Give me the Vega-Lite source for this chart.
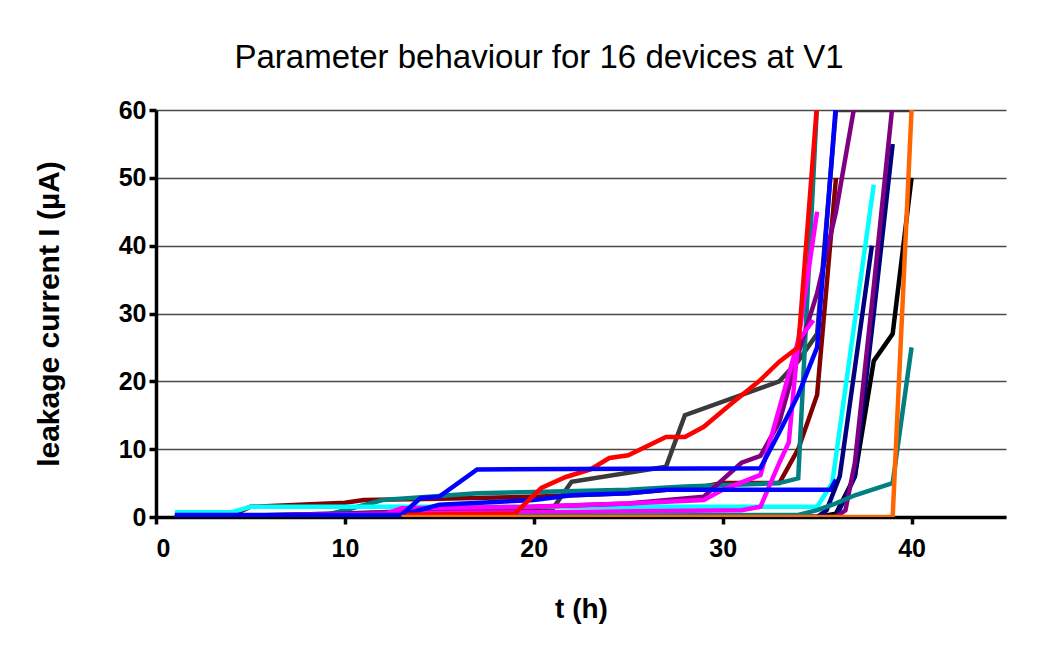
{
  "$schema": "https://vega.github.io/schema/vega-lite/v6.json",
  "width": 850,
  "height": 407,
  "autosize": "none",
  "padding": {"left": 156, "top": 110, "right": 48, "bottom": 147},
  "background": "white",
  "title": {
    "text": "Parameter behaviour for 16 devices at V1",
    "font": "Liberation Sans",
    "fontSize": 33,
    "fontWeight": "normal",
    "color": "black",
    "anchor": "middle",
    "dx": -42,
    "offset": 23
  },
  "config": {
    "view": {"stroke": null},
    "font": "Liberation Sans"
  },
  "data": {
    "values": [
      {"device": "d01", "t": 1, "I": 0}, {"device": "d01", "t": 35, "I": 0}, {"device": "d01", "t": 36, "I": 0.5}, {"device": "d01", "t": 37, "I": 6}, {"device": "d01", "t": 38, "I": 23}, {"device": "d01", "t": 39, "I": 27}, {"device": "d01", "t": 40, "I": 50},

      {"device": "d02", "t": 1, "I": 0}, {"device": "d02", "t": 10, "I": 0.5}, {"device": "d02", "t": 21, "I": 1.2}, {"device": "d02", "t": 22, "I": 5.2}, {"device": "d02", "t": 27, "I": 7.4}, {"device": "d02", "t": 28, "I": 15}, {"device": "d02", "t": 33, "I": 20}, {"device": "d02", "t": 34, "I": 23}, {"device": "d02", "t": 35, "I": 27}, {"device": "d02", "t": 36, "I": 60}, {"device": "d02", "t": 40, "I": 60},

      {"device": "d03", "t": 1, "I": 0}, {"device": "d03", "t": 4, "I": 0.2}, {"device": "d03", "t": 5, "I": 1.5}, {"device": "d03", "t": 10, "I": 2.1}, {"device": "d03", "t": 11, "I": 2.5}, {"device": "d03", "t": 15, "I": 2.7}, {"device": "d03", "t": 20, "I": 3}, {"device": "d03", "t": 25, "I": 3.5}, {"device": "d03", "t": 29, "I": 4.5}, {"device": "d03", "t": 30, "I": 5}, {"device": "d03", "t": 33, "I": 5}, {"device": "d03", "t": 34, "I": 10}, {"device": "d03", "t": 35, "I": 18}, {"device": "d03", "t": 36, "I": 50},

      {"device": "d04", "t": 1, "I": 0}, {"device": "d04", "t": 9, "I": 0.3}, {"device": "d04", "t": 10, "I": 1}, {"device": "d04", "t": 12, "I": 2.5}, {"device": "d04", "t": 15, "I": 3.1}, {"device": "d04", "t": 17, "I": 3.5}, {"device": "d04", "t": 20, "I": 3.7}, {"device": "d04", "t": 25, "I": 4}, {"device": "d04", "t": 28, "I": 4.5}, {"device": "d04", "t": 33, "I": 5}, {"device": "d04", "t": 34, "I": 5.7}, {"device": "d04", "t": 35, "I": 61},

      {"device": "d05", "t": 1, "I": 0.7}, {"device": "d05", "t": 4, "I": 0.7}, {"device": "d05", "t": 5, "I": 1.5}, {"device": "d05", "t": 35, "I": 1.5}, {"device": "d05", "t": 35.8, "I": 5}, {"device": "d05", "t": 37, "I": 29}, {"device": "d05", "t": 38, "I": 49},

      {"device": "d06", "t": 1, "I": 0}, {"device": "d06", "t": 10, "I": 0.5}, {"device": "d06", "t": 20, "I": 1.5}, {"device": "d06", "t": 25, "I": 2}, {"device": "d06", "t": 29, "I": 3}, {"device": "d06", "t": 30, "I": 5.5}, {"device": "d06", "t": 31, "I": 8}, {"device": "d06", "t": 32, "I": 9}, {"device": "d06", "t": 33, "I": 14}, {"device": "d06", "t": 34, "I": 24}, {"device": "d06", "t": 35, "I": 33}, {"device": "d06", "t": 36, "I": 45}, {"device": "d06", "t": 37, "I": 61},

      {"device": "d07", "t": 1, "I": 0}, {"device": "d07", "t": 13, "I": 0.5}, {"device": "d07", "t": 31, "I": 1}, {"device": "d07", "t": 32, "I": 1.5}, {"device": "d07", "t": 33, "I": 8}, {"device": "d07", "t": 33.5, "I": 11}, {"device": "d07", "t": 34, "I": 26}, {"device": "d07", "t": 34.8, "I": 29},

      {"device": "d08", "t": 1, "I": 0}, {"device": "d08", "t": 12, "I": 0.3}, {"device": "d08", "t": 13, "I": 1.3}, {"device": "d08", "t": 20, "I": 1.5}, {"device": "d08", "t": 25, "I": 2}, {"device": "d08", "t": 29, "I": 2.5}, {"device": "d08", "t": 30, "I": 4}, {"device": "d08", "t": 32, "I": 6.2}, {"device": "d08", "t": 33, "I": 16}, {"device": "d08", "t": 34, "I": 26}, {"device": "d08", "t": 35, "I": 45},

      {"device": "d09", "t": 1, "I": 0}, {"device": "d09", "t": 13, "I": 0.3}, {"device": "d09", "t": 15, "I": 1.8}, {"device": "d09", "t": 20, "I": 2.5}, {"device": "d09", "t": 22, "I": 3.2}, {"device": "d09", "t": 25, "I": 3.5}, {"device": "d09", "t": 27, "I": 4}, {"device": "d09", "t": 35.7, "I": 4}, {"device": "d09", "t": 36, "I": 5.5},

      {"device": "d10", "t": 1, "I": 0}, {"device": "d10", "t": 36, "I": 0}, {"device": "d10", "t": 37, "I": 6}, {"device": "d10", "t": 38, "I": 30}, {"device": "d10", "t": 39, "I": 55},

      {"device": "d11", "t": 1, "I": 0}, {"device": "d11", "t": 36, "I": 0}, {"device": "d11", "t": 36.5, "I": 1}, {"device": "d11", "t": 37, "I": 8}, {"device": "d11", "t": 38, "I": 34}, {"device": "d11", "t": 39, "I": 61},

      {"device": "d12", "t": 1, "I": 0}, {"device": "d12", "t": 35, "I": 0}, {"device": "d12", "t": 35.5, "I": 1}, {"device": "d12", "t": 36.2, "I": 6}, {"device": "d12", "t": 37, "I": 22}, {"device": "d12", "t": 37.9, "I": 40},

      {"device": "d13", "t": 1, "I": 0}, {"device": "d13", "t": 34, "I": 0.3}, {"device": "d13", "t": 35, "I": 1}, {"device": "d13", "t": 36, "I": 2}, {"device": "d13", "t": 37, "I": 3.2}, {"device": "d13", "t": 39, "I": 5}, {"device": "d13", "t": 40, "I": 25},

      {"device": "d14", "t": 1, "I": 0}, {"device": "d14", "t": 19, "I": 0.5}, {"device": "d14", "t": 20.4, "I": 4.3}, {"device": "d14", "t": 21.7, "I": 5.9}, {"device": "d14", "t": 23, "I": 7}, {"device": "d14", "t": 24, "I": 8.7}, {"device": "d14", "t": 25, "I": 9.1}, {"device": "d14", "t": 27, "I": 11.8}, {"device": "d14", "t": 28, "I": 11.8}, {"device": "d14", "t": 29, "I": 13.3}, {"device": "d14", "t": 30.5, "I": 16.8}, {"device": "d14", "t": 32, "I": 20.2}, {"device": "d14", "t": 33, "I": 22.9}, {"device": "d14", "t": 34, "I": 25}, {"device": "d14", "t": 35, "I": 61},

      {"device": "d15", "t": 1, "I": 0.3}, {"device": "d15", "t": 13, "I": 0.3}, {"device": "d15", "t": 14, "I": 2.8}, {"device": "d15", "t": 15, "I": 3}, {"device": "d15", "t": 17, "I": 7}, {"device": "d15", "t": 32, "I": 7.2}, {"device": "d15", "t": 33, "I": 12.5}, {"device": "d15", "t": 34, "I": 18}, {"device": "d15", "t": 35, "I": 25}, {"device": "d15", "t": 36, "I": 61},

      {"device": "d16", "t": 13, "I": 0}, {"device": "d16", "t": 39, "I": 0}, {"device": "d16", "t": 40, "I": 60}
    ]
  },
  "mark": {"type": "line", "strokeWidth": 4.5, "clip": true, "strokeJoin": "miter", "strokeCap": "butt"},
  "encoding": {
    "x": {
      "field": "t",
      "type": "quantitative",
      "scale": {"domain": [0, 45], "nice": false},
      "axis": {
        "values": [0, 10, 20, 30, 40],
        "title": "t (h)",
        "titleFont": "Liberation Sans",
        "titleFontSize": 28,
        "titleFontWeight": "bold",
        "titleColor": "black",
        "titlePadding": 34,
        "labelFont": "Liberation Sans",
        "labelFontSize": 25,
        "labelFontWeight": "bold",
        "labelColor": "black",
        "labelPadding": 12,
        "domainColor": "black",
        "domainWidth": 3.5,
        "tickColor": "black",
        "tickWidth": 3.5,
        "tickSize": 7,
        "grid": false
      }
    },
    "y": {
      "field": "I",
      "type": "quantitative",
      "scale": {"domain": [0, 60], "nice": false},
      "axis": {
        "values": [0, 10, 20, 30, 40, 50, 60],
        "title": "leakage current I (µA)",
        "titleFont": "Liberation Sans",
        "titleFontSize": 30,
        "titleFontWeight": "bold",
        "titleColor": "black",
        "titlePadding": 54,
        "labelFont": "Liberation Sans",
        "labelFontSize": 25,
        "labelFontWeight": "bold",
        "labelColor": "black",
        "labelPadding": 3,
        "domainColor": "black",
        "domainWidth": 3.5,
        "tickColor": "black",
        "tickWidth": 3.5,
        "tickSize": 7,
        "grid": true,
        "gridColor": "#4a4a4a",
        "gridWidth": 1.5
      }
    },
    "color": {
      "field": "device",
      "type": "nominal",
      "legend": null,
      "scale": {
        "domain": ["d01", "d02", "d03", "d04", "d05", "d06", "d07", "d08", "d09", "d10", "d11", "d12", "d13", "d14", "d15", "d16"],
        "range": ["#000000", "#3a3a3a", "#800000", "#008080", "#00FFFF", "#800080", "#FF00FF", "#FF00FF", "#0000FF", "#000080", "#800080", "#000080", "#008080", "#FF0000", "#0000FF", "#FF6600"]
      }
    },
    "order": {"field": "t", "type": "quantitative"}
  }
}
